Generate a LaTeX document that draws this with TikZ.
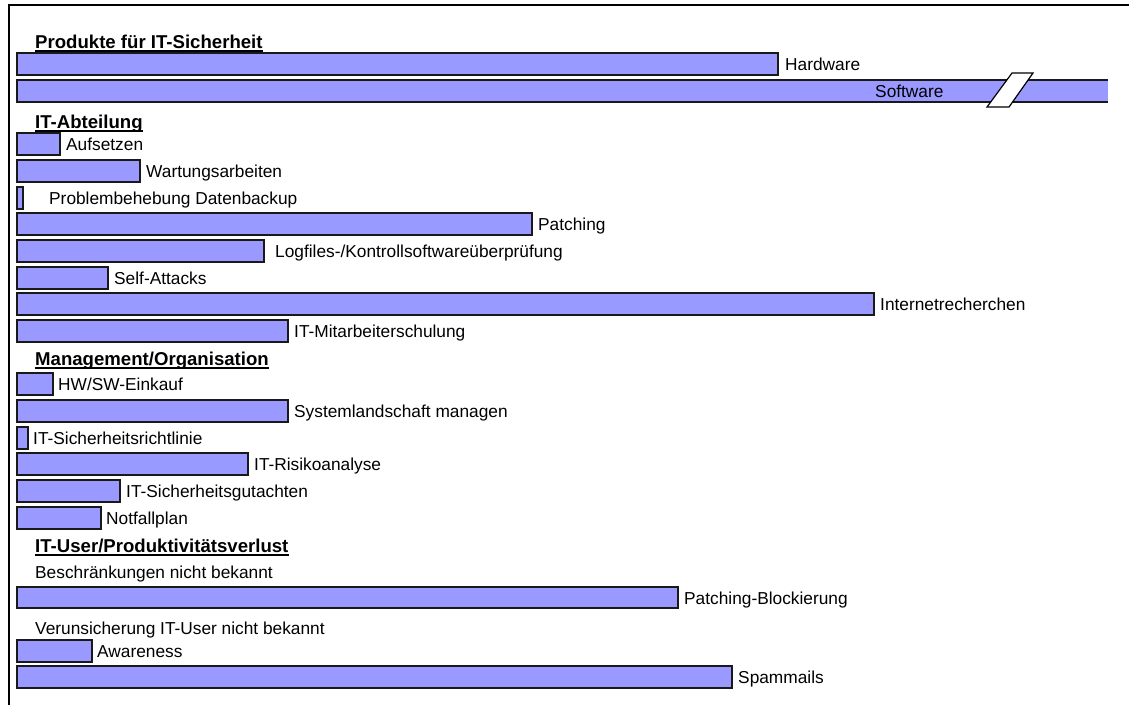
\documentclass[tikz,border=0pt]{standalone}
\usepackage{fontspec}
\setmainfont{Liberation Sans}
\usetikzlibrary{calc}

\definecolor{barblue}{RGB}{153,153,255}
\tikzset{
  bar/.style={draw=black!90, fill=barblue, line width=1.2pt},
  lbl/.style={anchor=west, inner sep=0pt, text height=12.4pt, text depth=0pt,
              font=\fontsize{17.3}{20}\selectfont},
  heading/.style={anchor=base west, inner sep=0pt, text depth=0pt,
              font=\fontsize{18.6}{22}\selectfont\bfseries},
  uline/.style={line width=1.8pt}
}

\begin{document}
\begin{tikzpicture}[x=1pt, y=-1pt]
\useasboundingbox (0,0) rectangle (1129,705);
% frame
\draw[line width=2pt] (9,705) -- (9,5) -- (1129,5);

% Produkte
\node[heading] (prod) at (35,48) {Produkte für IT-Sicherheit};
\draw[uline] ([yshift=-3pt]prod.south west) -- ([yshift=-3pt]prod.south east);
\draw[bar] (17,53) rectangle (778,75);
\node[lbl] (hw) at (785,64) {Hardware};
\fill[barblue] (17,80) rectangle (1108,102);
\draw[line width=1.2pt, draw=black!90] (1108,80) -- (17,80) -- (17,102) -- (1108,102);
\draw[fill=white, line width=1.2pt] (987,107) -- (1012,73) -- (1033,73) -- (1009,107) -- cycle;
\node[lbl] (sw) at (875,91) {Software};

% IT-Abteilung
\node[heading] (abt) at (35,128) {IT-Abteilung};
\draw[uline] ([yshift=-3pt]abt.south west) -- ([yshift=-3pt]abt.south east);
\foreach \yt/\len/\lx/\txt [count=\i] in {
    133/60/66/Aufsetzen,
    160/140/146/Wartungsarbeiten,
    187/23/49/Problembehebung Datenbackup,
    213/532/538/Patching,
    240/264/275/{Logfiles-/Kontrollsoftwareüberprüfung},
    267/108/114/Self-Attacks,
    293/874/880/Internetrecherchen,
    320/288/294/IT-Mitarbeiterschulung}
{
  \draw[bar] (17,\yt) rectangle (\len,\yt+22);
  \node[lbl] (abt\i) at (\lx,\yt+11) {\txt};
}

% Management
\node[heading] (mgmt) at (35,365) {Management/Organisation};
\draw[uline] ([yshift=-3pt]mgmt.south west) -- ([yshift=-3pt]mgmt.south east);
\foreach \yt/\len/\lx/\txt [count=\i] in {
    373/53/58/{HW/SW-Einkauf},
    400/288/294/Systemlandschaft managen,
    427/28/33/IT-Sicherheitsrichtlinie,
    453/248/254/IT-Risikoanalyse,
    480/120/126/IT-Sicherheitsgutachten,
    507/101/106/Notfallplan}
{
  \draw[bar] (17,\yt) rectangle (\len,\yt+22);
  \node[lbl] (mgmt\i) at (\lx,\yt+11) {\txt};
}

% IT-User
\node[heading] (user) at (35,552) {IT-User/Produktivitätsverlust};
\draw[uline] ([yshift=-3pt]user.south west) -- ([yshift=-3pt]user.south east);
\node[lbl] (beschr) at (35,572) {Beschränkungen nicht bekannt};
\draw[bar] (17,587) rectangle (678,608);
\node[lbl] (block) at (684,598) {Patching-Blockierung};
\node[lbl] (verun) at (35,628) {Verunsicherung IT-User nicht bekannt};
\draw[bar] (17,640) rectangle (92,662);
\node[lbl] (aware) at (97,651) {Awareness};
\draw[bar] (17,666) rectangle (732,688);
\node[lbl] (spam) at (738,677) {Spammails};
\end{tikzpicture}
\end{document}
